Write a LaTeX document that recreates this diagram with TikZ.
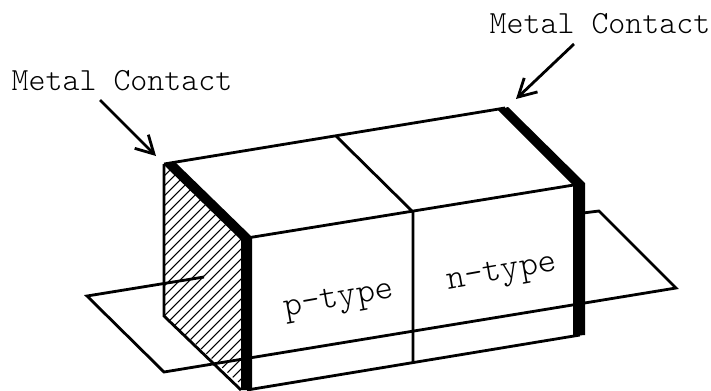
\documentclass[tikz,border=0pt]{standalone}
\usepackage{tikz}
\usetikzlibrary{
    arrows.meta
}

\begin{document}
\begin{tikzpicture}[x=0.02cm,y=-0.02cm,line width=1.6pt,
    >={Straight Barb[length=10pt,width=11pt]},
    labeltext/.style={inner sep=0pt,font=\fontsize{18.4}{20}\ttfamily\fontseries{l}\selectfont},
    typetext/.style={inner sep=0pt,rotate=10,font=\fontsize{20}{22}\ttfamily\fontseries{l}\selectfont}]

\useasboundingbox (0,0) rectangle (711,390);

% Corners of the junction block
\coordinate (backleft) at (164,164);
\coordinate (backmid) at (336,136);
\coordinate (backright) at (505,108);
\coordinate (frontleft) at (247,238);
\coordinate (frontmid) at (413,212);
\coordinate (frontright) at (580,184);
\coordinate (lowleft) at (247,390);
\coordinate (lowmid) at (413,362);
\coordinate (lowright) at (580,335);
\coordinate (lowback) at (164,316);

% Corners of the junction plane
\coordinate (planeleft) at (87,296);
\coordinate (planefront) at (164,372);
\coordinate (planeright) at (676,288);
\coordinate (planeback) at (599,211);
\coordinate (planeinner) at (204,277);
\coordinate (planeouter) at (583,213);

% Hatched end face
\begin{scope}
\clip (backleft) -- (frontleft) -- (lowleft) -- (lowback) -- cycle;
\foreach \i in {0,...,32}
    \draw[line width=0.6pt] (-80+10*\i,400) -- (-80+10*\i+300,100);
\end{scope}
\draw (backleft) -- (lowback) -- (241,390);

% Junction plane
\draw (planeinner) -- (planeleft) -- (planefront) -- (planeright) -- (planeback) -- (planeouter);

% Block edges
\draw (backleft) -- (backright);
\draw (frontleft) -- (frontright);
\draw (lowleft) -- (lowright);
\draw (backmid) -- (frontmid) -- (lowmid);

% Metal contacts
\fill (164,165) -- (175,162) -- (252,237) -- (252,390) -- (241,390) -- (241,240) -- cycle;
\fill (498,110) -- (508,107) -- (585,183) -- (585,335) -- (573,336) -- (573,185) -- cycle;

% Labels and arrows
\node[labeltext] (leftlabel) at (122,81) {Metal Contact};
\node[labeltext] (rightlabel) at (600,24) {Metal Contact};
\coordinate (lefttail) at (100,100);
\coordinate (lefttip) at (156,156);
\coordinate (righttail) at (574,44);
\coordinate (righttip) at (516,99);
\draw[->] (lefttail) -- (lefttip);
\draw[->] (righttail) -- (righttip);

\node[typetext] (ptype) at (339,301) {p-type};
\node[typetext] (ntype) at (502,274) {n-type};

\end{tikzpicture}
\end{document}
